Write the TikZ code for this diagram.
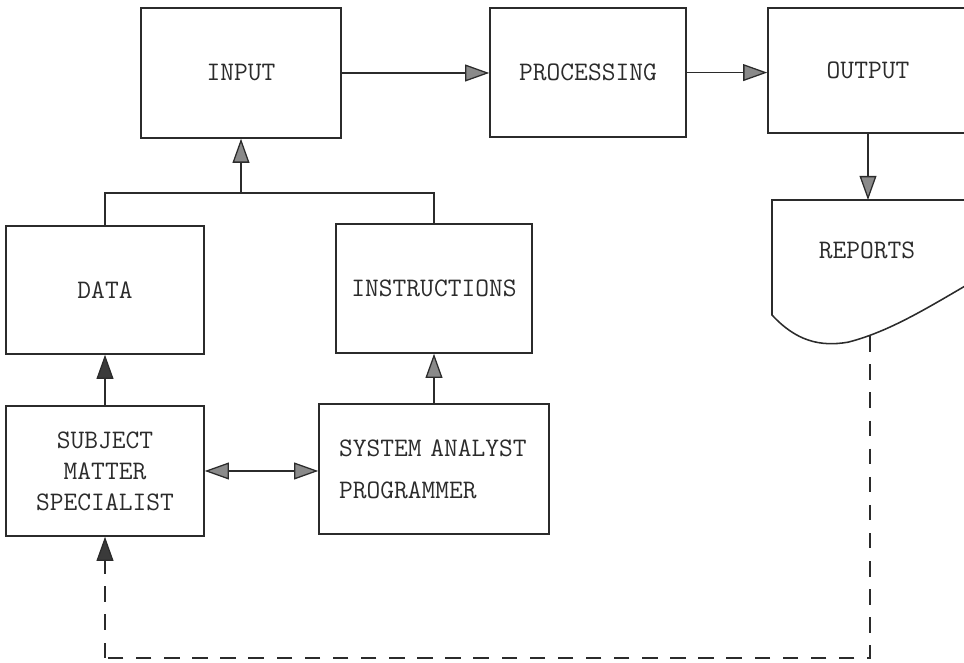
\documentclass[tikz,border=0pt]{standalone}
\usepackage{fontspec}
\usepackage{tikz}
\usetikzlibrary{arrows.meta, positioning}
\definecolor{inkline}{HTML}{2B2B2B}
\definecolor{tipgray}{HTML}{8A8A8A}
\definecolor{tipdark}{HTML}{3A3A3A}

\begin{document}
\begin{tikzpicture}[
    every node/.style={font=\ttfamily\fontsize{19}{22}\selectfont, text=inkline},
    >={Triangle[length=6mm, width=4.2mm, fill=tipgray]},
    block/.style={
        rectangle,
        draw=inkline,
        line width=1.1pt,
        align=center,
        inner sep=0pt
    },
    arrow/.style={line width=0.9pt, ->, color=inkline},
    darktip/.style={>={Triangle[length=6mm, width=4.2mm, fill=tipdark]}},
    feedback/.style={line width=0.9pt, color=inkline, dash pattern=on 11pt off 9pt}
]
\useasboundingbox (0,0) rectangle (24.1,16.575);
\clip (0,0) rectangle (24.1,16.575);

\node[block, minimum width=5cm, minimum height=3.25cm] (in) at (6.025,14.75) {INPUT};
\node[block, minimum width=4.9cm, minimum height=3.225cm] (proc) at (14.7,14.76) {PROCESSING};
\node[block, minimum width=5cm, minimum height=3.125cm] (out) at (21.7,14.81) {OUTPUT};

\draw[arrow] (in.east) -- (in.east -| proc.west);
\draw[arrow] (proc.east) -- (proc.east -| out.west);

% report sheet, cut by the page edge
\draw[inkline, line width=1.1pt] (19.3,11.575) -- (19.3,8.7)
    .. controls (19.9,8.05) and (20.5,7.9) .. (21.2,8.02)
    .. controls (22.3,8.3) and (23.3,8.95) .. (24.6,9.7)
    -- (24.6,11.575) -- cycle;
\node (rep) at (21.675,10.325) {REPORTS};
\coordinate (reptop) at (21.7,11.575);
\coordinate (repbot) at (21.75,8.17);

\draw[arrow] (out.south) -- (reptop);

\node[block, minimum width=4.95cm, minimum height=3.2cm] (data) at (2.625,9.325) {DATA};
\node[block, minimum width=4.9cm, minimum height=3.225cm] (instr) at (10.85,9.3625) {INSTRUCTIONS};

\coordinate (join) at (6.025,11.75);
\draw[line width=0.9pt, inkline] (data.north) |- (join) -| (instr.north);
\draw[arrow] (join) -- (in.south);

\node[block, minimum width=4.95cm, minimum height=3.25cm] (sms) at (2.625,4.8)
{SUBJECT\\MATTER\\SPECIALIST};
\node[block, minimum width=5.75cm, minimum height=3.25cm, align=left,
      text width=4.75cm] (sap) at (10.85,4.85)
{SYSTEM ANALYST\\[8pt]PROGRAMMER};

\draw[arrow, darktip] (sms) -- (data);
\draw[arrow] (sap) -- (instr);
\draw[arrow, <->] (sms.east) -- (sms.east -| sap.west);

% feedback from the reports
\coordinate (corner) at (21.75,0.125);
\draw[feedback] (repbot) -- (corner) -- (corner -| sms.south);
\draw[feedback, darktip, ->] (corner -| sms.south) -- (sms.south);

\end{tikzpicture}
\end{document}
